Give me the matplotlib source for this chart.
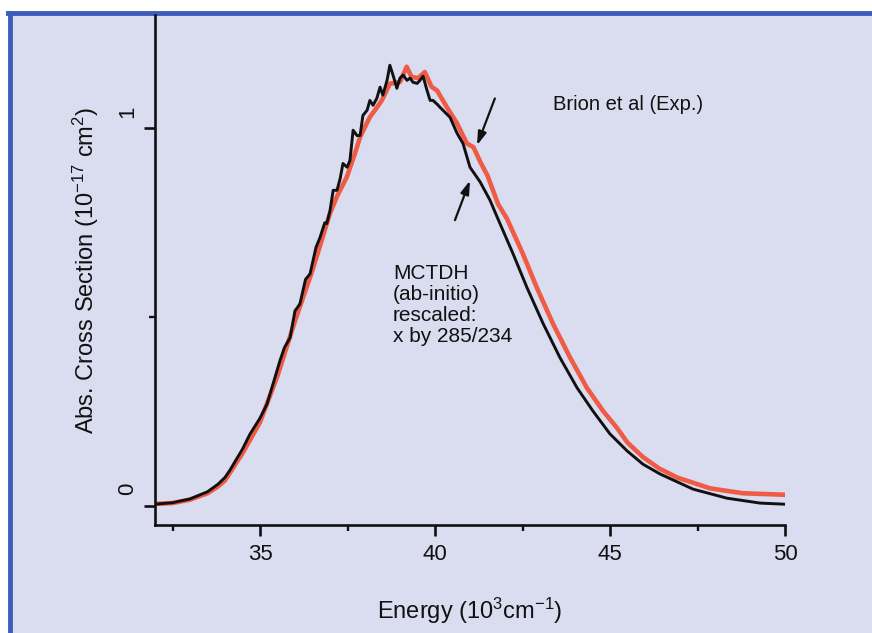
import matplotlib
matplotlib.use("Agg")
import matplotlib.pyplot as plt
from matplotlib.patches import Rectangle
from matplotlib.lines import Line2D
import matplotlib.transforms as mtransforms

plt.rcParams['font.family'] = ['Liberation Sans', 'DejaVu Sans']
plt.rcParams['mathtext.fontset'] = 'custom'
plt.rcParams['mathtext.rm'] = 'Liberation Sans'
plt.rcParams['mathtext.it'] = 'Liberation Sans:italic'
plt.rcParams['mathtext.bf'] = 'Liberation Sans:bold'

# ---- data (energy in 10^3 cm^-1, cross section in 10^-17 cm^2) ----
energy_mctdh = [32.0, 32.5, 33.0, 33.5, 33.8, 34.0, 34.14, 34.5, 34.71, 35.0, 35.2,
                35.4, 35.57, 35.7, 35.86, 36.0, 36.14, 36.3, 36.43, 36.6, 36.71,
                36.85, 36.91, 37.0, 37.09, 37.2, 37.29, 37.37, 37.49, 37.57, 37.66,
                37.77, 37.86, 37.94, 38.06, 38.14, 38.23, 38.34, 38.43, 38.51, 38.63,
                38.71, 38.8, 38.91, 39.0, 39.09, 39.2, 39.29, 39.37, 39.49, 39.57,
                39.66, 39.77, 39.86, 39.94, 40.06, 40.14, 40.43, 40.63, 40.8, 41.0,
                41.29, 41.57, 41.8, 42.23, 42.63, 43.09, 43.57, 44.06, 44.51, 45.0,
                45.49, 45.94, 46.43, 47.37, 48.34, 49.29, 50.0]
sigma_mctdh = [0.005, 0.009, 0.019, 0.038, 0.058, 0.076, 0.095, 0.151, 0.19, 0.233, 0.27,
               0.332, 0.385, 0.42, 0.446, 0.517, 0.535, 0.60, 0.615, 0.685, 0.71,
               0.75, 0.748, 0.782, 0.836, 0.836, 0.867, 0.907, 0.897, 0.915, 0.995,
               0.981, 0.981, 1.034, 1.048, 1.074, 1.061, 1.080, 1.109, 1.088, 1.127,
               1.167, 1.141, 1.106, 1.133, 1.141, 1.127, 1.133, 1.122, 1.119, 1.127,
               1.138, 1.101, 1.074, 1.074, 1.064, 1.056, 1.029, 0.987, 0.960, 0.897,
               0.858, 0.81, 0.76, 0.668, 0.578, 0.483, 0.393, 0.313, 0.252, 0.191,
               0.146, 0.111, 0.085, 0.045, 0.021, 0.008, 0.005]

energy_exp = [32.0, 32.5, 33.0, 33.5, 33.8, 34.0, 34.5, 35.0, 35.5, 36.0, 36.5,
              37.0, 37.2, 37.48, 37.7, 37.86, 38.14, 38.3, 38.48, 38.71, 39.0,
              39.19, 39.33, 39.52, 39.71, 39.9, 40.06, 40.34, 40.63, 40.91, 41.1,
              41.3, 41.5, 41.8, 42.06, 42.51, 42.91, 43.37, 43.86, 44.34, 44.8,
              45.2, 45.5, 45.94, 46.4, 46.91, 47.86, 48.8, 50.0]
sigma_exp = [0.006, 0.008, 0.017, 0.034, 0.052, 0.068, 0.140, 0.222, 0.345, 0.49, 0.625,
             0.775, 0.82, 0.871, 0.93, 0.977, 1.03, 1.05, 1.074, 1.118, 1.123,
             1.163, 1.136, 1.133, 1.149, 1.11, 1.10, 1.056, 1.013, 0.96, 0.95,
             0.91, 0.875, 0.80, 0.76, 0.668, 0.578, 0.483, 0.393, 0.313, 0.252,
             0.207, 0.168, 0.130, 0.100, 0.076, 0.047, 0.034, 0.030]

x_major = [35, 40, 45, 50]
x_minor = [32.5, 37.5, 42.5, 47.5]
y_major = [0, 1]
y_minor = [0.5]
y_labels = ['0', '1']

W, H = 872, 633
fig = plt.figure(figsize=(W / 100, H / 100), dpi=100)
fig.patch.set_facecolor('white')

# lavender panel with blue frame on top and left
bg = '#dadcef'
fig.patches.append(Rectangle((8 / W, 0), 1, 1 - 12 / H, transform=fig.transFigure,
                             facecolor=bg, edgecolor='none', zorder=-10))
blue = '#3d5cbb'
fig.lines.append(Line2D([10 / W, 10 / W], [0, 1 - 13 / H], transform=fig.transFigure,
                        color=blue, lw=3.5, zorder=-5))
fig.lines.append(Line2D([8 / W, 1], [1 - 13 / H, 1 - 13 / H], transform=fig.transFigure,
                        color=blue, lw=3.5, zorder=-5))

ax = fig.add_axes([155 / W, 1 - 525 / H, (785 - 155) / W, (525 - 15) / H])
ax.set_facecolor('none')
ax.set_xlim(32.0, 50.0)
ax.set_ylim(-0.05, 1.30)

ax.plot(energy_exp, sigma_exp, color='#ef5b45', lw=3.3, solid_joinstyle='round', zorder=2)
ax.plot(energy_mctdh, sigma_mctdh, color='#111111', lw=2.1, solid_joinstyle='round', zorder=3)

for s in ['top', 'right']:
    ax.spines[s].set_visible(False)
for s in ['left', 'bottom']:
    ax.spines[s].set_linewidth(1.9)
    ax.spines[s].set_color('#111111')

ax.set_xticks(x_major)
ax.set_xticks(x_minor, minor=True)
ax.set_yticks(y_major)
ax.set_yticks(y_minor, minor=True)
ax.set_yticklabels(y_labels, rotation=90, va='center')
ax.tick_params(axis='both', which='major', direction='out', length=8, width=1.9,
               color='#111111', labelsize=16, labelcolor='#111111')
ax.tick_params(axis='both', which='minor', direction='out', length=4, width=1.7,
               color='#111111')
ax.tick_params(axis='x', which='major', pad=6)
ax.tick_params(axis='y', which='major', pad=4)

offset = mtransforms.ScaledTranslation(0, 17 / 100, fig.dpi_scale_trans)
for lab in ax.get_yticklabels():
    lab.set_transform(lab.get_transform() + offset)

ax.set_xlabel('Energy (10$^{\\mathregular{3}}$cm$^{\\mathregular{-1}}$)', fontsize=17,
              color='#111111', labelpad=22)
ax.set_ylabel('Abs. Cross Section (10$^{\\mathregular{-17}}$ cm$^{\\mathregular{2}}$)',
              fontsize=17, color='#111111', labelpad=12)

ax.text(553 / W, 1 - 105 / H, 'Brion et al (Exp.)', transform=fig.transFigure,
        fontsize=14.5, color='#111111', ha='left', va='center')
ax.text(393 / W, 1 - 305 / H, 'MCTDH\n(ab-initio)\nrescaled:\nx by 285/234',
        transform=fig.transFigure, fontsize=15, color='#111111', ha='left',
        va='center', linespacing=1.15)

arrow_style = dict(arrowstyle='-|>,head_length=0.8,head_width=0.25', lw=1.6,
                   color='#111111', shrinkA=0, shrinkB=0)
ax.annotate('', xy=(41.2, 0.955), xytext=(41.71, 1.079), arrowprops=arrow_style)
ax.annotate('', xy=(41.0, 0.862), xytext=(40.57, 0.757), arrowprops=arrow_style)

fig.savefig('out.png', dpi=100, facecolor=fig.get_facecolor())
